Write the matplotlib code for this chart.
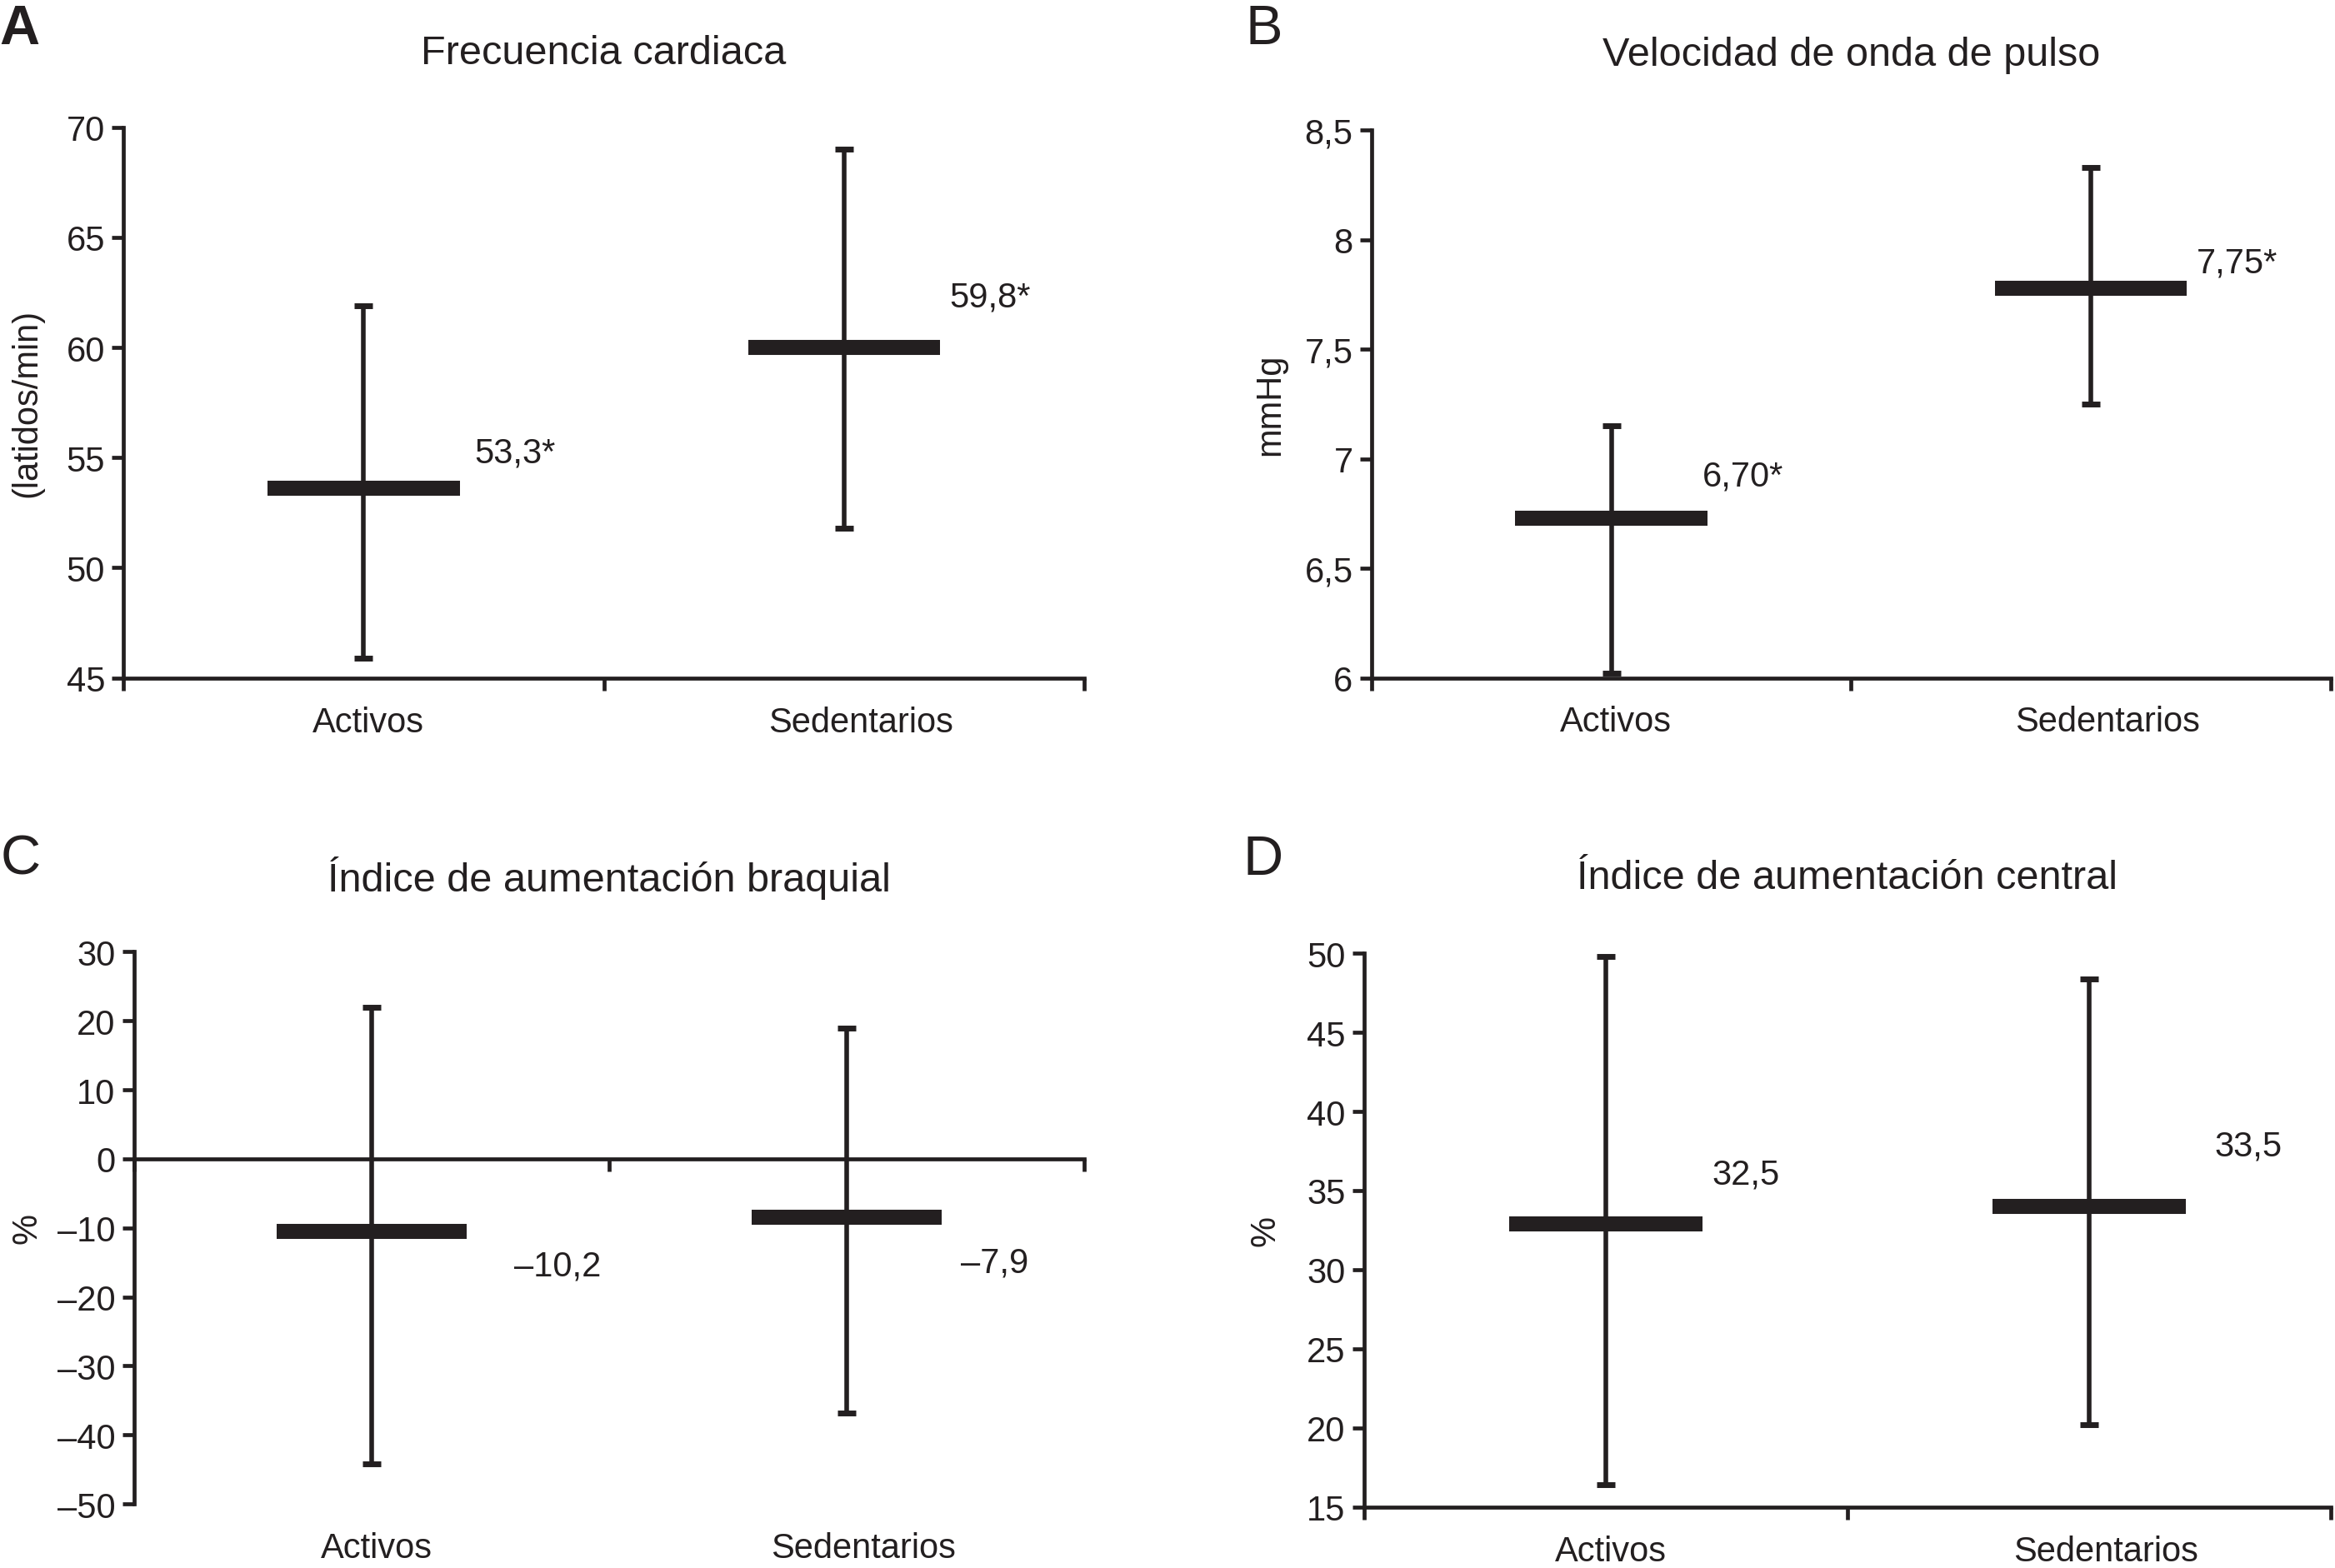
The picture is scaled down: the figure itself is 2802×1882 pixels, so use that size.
import matplotlib
matplotlib.use("Agg")
import matplotlib.pyplot as plt
import matplotlib.transforms as mtransforms

plt.rcParams['font.family'] = ['Liberation Sans Narrow', 'Liberation Sans', 'DejaVu Sans']

# ---------------- data ----------------
categories = ["Activos", "Sedentarios"]

fc_mean = [53.6, 60.0]
fc_low = [45.9, 51.8]
fc_high = [61.9, 69.0]
fc_labels = ["53,3*", "59,8*"]

vop_mean = [6.73, 7.78]
vop_low = [6.02, 7.25]
vop_high = [7.15, 8.33]
vop_labels = ["6,70*", "7,75*"]

iab_mean = [-10.5, -8.4]
iab_low = [-44.2, -36.8]
iab_high = [22.0, 19.0]
iab_labels = ["\u201310,2", "\u20137,9"]

iac_mean = [32.9, 34.0]
iac_low = [16.4, 20.2]
iac_high = [49.8, 48.4]
iac_labels = ["32,5", "33,5"]

fc_ticks = [45, 50, 55, 60, 65, 70]
fc_ticklabels = ["45", "50", "55", "60", "65", "70"]
vop_ticks = [6, 6.5, 7, 7.5, 8, 8.5]
vop_ticklabels = ["6", "6,5", "7", "7,5", "8", "8,5"]
iab_ticks = [-50, -40, -30, -20, -10, 0, 10, 20, 30]
iab_ticklabels = ["\u201350", "\u201340", "\u201330", "\u201320", "\u201310", "0", "10", "20", "30"]
iac_ticks = [15, 20, 25, 30, 35, 40, 45, 50]
iac_ticklabels = ["15", "20", "25", "30", "35", "40", "45", "50"]

# ---------------- layout / style ----------------
W, H = 2802, 1883
DPI = 100
INK = '#231f20'
TICK_FS = 30
TITLE_FS = 35
YLABEL_FS = 30
LETTER_FS = 48
CAT_DX = [0.01, 0.035]

fig = plt.figure(figsize=(W / DPI, H / DPI), dpi=DPI)

def frac_rect(l, r, t, b):
    # coordinates given in 1568x1054 reference space
    return [l / 1568, 1 - b / 1054, (r - l) / 1568, (b - t) / 1054]

panels = [
    dict(rect=frac_rect(83, 728, 86, 456), mean=fc_mean, low=fc_low, high=fc_high,
         labels=fc_labels, ticks=fc_ticks, ticklabels=fc_ticklabels, ylim=(45, 70),
         title="Frecuencia cardiaca", ylabel="(latidos/min)", letter="A", letter_w='bold',
         lab_dx=[0.23, 0.22], lab_y=[55.2, 62.3], zero=False,
         letter_xy=(13, 20), title_y=36, ylabel_x=18),
    dict(rect=frac_rect(921, 1565, 88, 456), mean=vop_mean, low=vop_low, high=vop_high,
         labels=vop_labels, ticks=vop_ticks, ticklabels=vop_ticklabels, ylim=(6, 8.5),
         title="Velocidad de onda de pulso", ylabel="mmHg", letter="B", letter_w='normal',
         lab_dx=[0.19, 0.22], lab_y=[6.92, 7.895], zero=False,
         letter_xy=(849, 20), title_y=37, ylabel_x=853),
    dict(rect=frac_rect(90, 728, 640, 1011), mean=iab_mean, low=iab_low, high=iab_high,
         labels=iab_labels, ticks=iab_ticks, ticklabels=iab_ticklabels, ylim=(-50, 30),
         title="\u00cdndice de aumentaci\u00f3n braquial", ylabel="%", letter="C", letter_w='normal',
         lab_dx=[0.30, 0.24], lab_y=[-15.5, -15.0], zero=True,
         letter_xy=(14, 578), title_y=590, ylabel_x=18),
    dict(rect=frac_rect(916, 1565, 641, 1013), mean=iac_mean, low=iac_low, high=iac_high,
         labels=iac_labels, ticks=iac_ticks, ticklabels=iac_ticklabels, ylim=(15, 50),
         title="\u00cdndice de aumentaci\u00f3n central", ylabel="%", letter="D", letter_w='normal',
         lab_dx=[0.22, 0.26], lab_y=[36.0, 37.8], zero=False,
         letter_xy=(848, 578), title_y=590, ylabel_x=850),
]

xpos = [0.5, 1.5]

for p in panels:
    ax = fig.add_axes(p['rect'])
    ax.set_xlim(0, 2)
    ax.set_ylim(*p['ylim'])
    for s in ['top', 'right']:
        ax.spines[s].set_visible(False)
    for s in ['left', 'bottom']:
        ax.spines[s].set_linewidth(3.4)
        ax.spines[s].set_color(INK)
        ax.spines[s].set_capstyle('projecting')
    if p['zero']:
        ax.spines['bottom'].set_position(('data', 0))
    ax.set_yticks(p['ticks'])
    ax.set_yticklabels(p['ticklabels'])
    ax.set_xticks([0, 1, 2])
    ax.set_xticklabels([])
    ax.tick_params(axis='both', direction='out', length=10, width=3.4, color=INK,
                   labelsize=TICK_FS, labelcolor=INK, pad=6)
    ax.tick_params(axis='x', length=11)

    # category labels
    trans = mtransforms.blended_transform_factory(ax.transData, ax.transAxes)
    for x, dx, c in zip(xpos, CAT_DX, categories):
        ax.text(x + dx, -0.08, c, transform=trans, ha='center', va='center',
                fontsize=TICK_FS, color=INK)

    # error bars and mean bars
    yerr = [[m - l for m, l in zip(p['mean'], p['low'])],
            [h - m for m, h in zip(p['mean'], p['high'])]]
    ax.errorbar(xpos, p['mean'], yerr=yerr, fmt='none', ecolor=INK, elinewidth=4.0,
                capsize=8, capthick=5, zorder=3, clip_on=False)
    ax.hlines(p['mean'], [x - 0.2 for x in xpos], [x + 0.2 for x in xpos],
              colors=INK, linewidth=13, capstyle='butt', zorder=4)

    # value labels
    for x, dx, y, t in zip(xpos, p['lab_dx'], p['lab_y'], p['labels']):
        ax.text(x + dx, y, t, ha='left', va='center', fontsize=TICK_FS, color=INK)

    # title
    cx = (p['rect'][0] + p['rect'][2] / 2)
    fig.text(cx, 1 - p['title_y'] / 1054, p['title'], ha='center', va='center',
             fontsize=TITLE_FS, color=INK)
    # panel letter
    lx, ly = p['letter_xy']
    fig.text(lx / 1568, 1 - ly / 1054, p['letter'], ha='center', va='center',
             fontsize=LETTER_FS, color=INK, fontweight=p['letter_w'])
    # y label
    cy = p['rect'][1] + p['rect'][3] / 2
    fig.text(p['ylabel_x'] / 1568, cy, p['ylabel'], ha='center', va='center',
             rotation=90, fontsize=YLABEL_FS, color=INK)

fig.savefig("out.png", dpi=DPI)
